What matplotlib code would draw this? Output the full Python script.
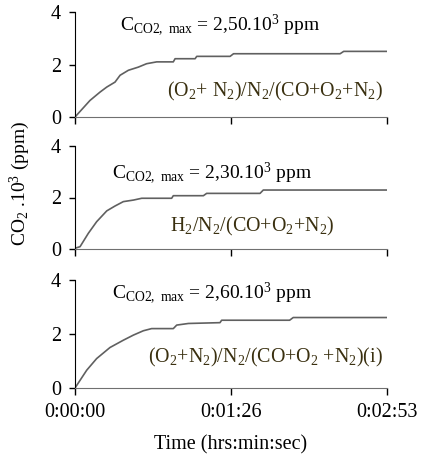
import matplotlib
matplotlib.use("Agg")
import matplotlib.pyplot as plt

plt.rcParams['font.family'] = ['Liberation Serif', 'DejaVu Serif']
plt.rcParams['mathtext.fontset'] = 'custom'
plt.rcParams['mathtext.rm'] = 'Liberation Serif'
plt.rcParams['mathtext.it'] = 'Liberation Serif'

# time in seconds, CO2 in 10^3 ppm
t1 = [0, 8.3, 13.9, 17.6, 22.2, 25, 29.6, 35.1, 39.7, 45.3, 54.5, 55.5, 66.6, 67.5, 86, 87.9, 147, 149, 173]
y1 = [0, 0.63, 0.95, 1.14, 1.33, 1.59, 1.78, 1.90, 2.03, 2.10, 2.10, 2.22, 2.22, 2.31, 2.31, 2.41, 2.41, 2.50, 2.50]
t2 = [0, 2.8, 7.4, 12, 17.6, 22.2, 26.8, 32.4, 37, 53.6, 54.5, 71.2, 73, 102.6, 104.4, 173]
y2 = [0.03, 0.09, 0.61, 1.06, 1.48, 1.67, 1.84, 1.90, 1.97, 1.97, 2.07, 2.07, 2.16, 2.16, 2.29, 2.29]
t3 = [0, 6.5, 12, 19.4, 26.8, 32.4, 37.9, 42.5, 54.5, 56.4, 62.9, 80.4, 81.3, 119, 121, 173]
y3 = [0, 0.66, 1.09, 1.50, 1.77, 1.96, 2.12, 2.20, 2.20, 2.33, 2.39, 2.42, 2.51, 2.51, 2.61, 2.61]

xticks = [0, 86.5, 173]
xticklabels = ['0:00:00', '0:01:26', '0:02:53']
yticks = [0, 2, 4]
titles = [r'C$_{\mathregular{CO2,\ max}}$ = 2,50.10$^{\mathregular{3}}$ ppm',
          r'C$_{\mathregular{CO2,\ max}}$ = 2,30.10$^{\mathregular{3}}$ ppm',
          r'C$_{\mathregular{CO2,\ max}}$ = 2,60.10$^{\mathregular{3}}$ ppm']
labels = [r'(O$_2$+ N$_2$)/N$_2$/(CO+O$_2$+N$_2$)',
          r'H$_2$/N$_2$/(CO+O$_2$+N$_2$)',
          r'(O$_2$+N$_2$)/N$_2$/(CO+O$_2$ +N$_2$)(i)']

W, H = 421, 457
fig = plt.figure(figsize=(W / 100, H / 100), dpi=100)

panels = [(12, 117), (146, 249), (280, 388)]
title_pos = [(0.465, 0.876), (0.4375, 0.738), (0.4375, 0.88)]
label_pos = [(0.641, 0.24), (0.569, 0.214), (0.61, 0.287)]
series = [(t1, y1), (t2, y2), (t3, y3)]

for i, ((top, bot), (t, y)) in enumerate(zip(panels, series)):
    ax = fig.add_axes([75 / W, 1 - bot / H, 312 / W, (bot - top) / H])
    ax.plot(t, y, color='#606060', lw=1.2)
    ax.set_xlim(0, 173)
    ax.set_ylim(0, 4)
    ax.set_yticks(yticks)
    ax.set_yticklabels([str(v) for v in yticks], fontsize=14.5)
    ax.set_xticks(xticks)
    if i == 2:
        ax.set_xticklabels(xticklabels, fontsize=14.5)
        ax.set_xlabel('Time (hrs:min:sec)', fontsize=14.5, labelpad=9)
    else:
        ax.set_xticklabels([])
    for s in ['top', 'right']:
        ax.spines[s].set_visible(False)
    ax.spines['left'].set_color('black')
    ax.spines['bottom'].set_color('#707070')
    ax.tick_params(axis='y', direction='out', length=4, width=1, pad=6)
    ax.tick_params(axis='x', direction='out', length=5, width=1, pad=6)
    ax.text(*title_pos[i], titles[i], transform=ax.transAxes, fontsize=14,
            ha='center', va='center')
    ax.text(*label_pos[i], labels[i], transform=ax.transAxes, fontsize=14.4,
            ha='center', va='center', color='#3a3010')

fig.text(20 / W, 1 - 183.5 / H, r'CO$_2$ .10$^{\mathregular{3}}$ (ppm)', rotation=90,
         fontsize=14, ha='center', va='center')

fig.savefig('out.png', dpi=100)
